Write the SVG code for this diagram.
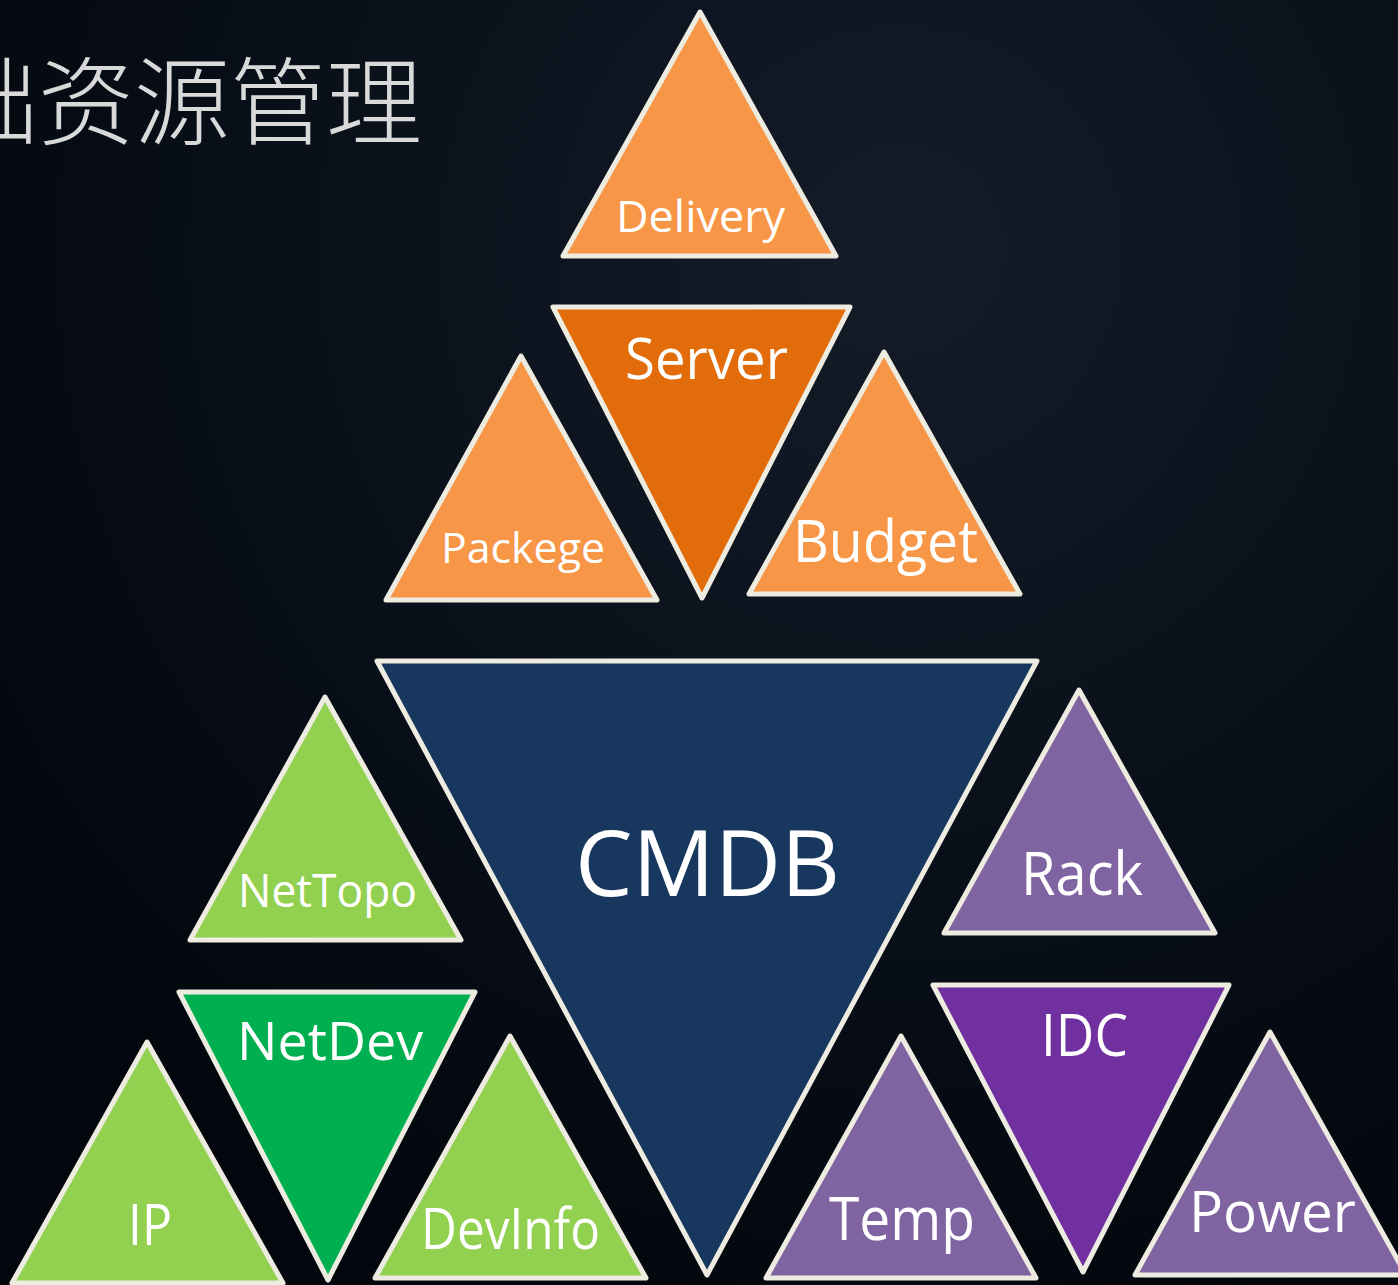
<svg xmlns="http://www.w3.org/2000/svg" width="1398" height="1285" viewBox="0 0 1398 1285">
  <defs>
    <radialGradient id="bg" cx="900" cy="250" r="1100" gradientUnits="userSpaceOnUse">
      <stop offset="0" stop-color="#141c28"/>
      <stop offset="0.5" stop-color="#0a111b"/>
      <stop offset="1" stop-color="#03070d"/>
    </radialGradient>
  </defs>
  <style>
    .tri { stroke: #eeece1; stroke-width: 5; stroke-linejoin: round; }
    .lbl { font-family: "Open Sans", "Noto Sans", "DejaVu Sans", sans-serif; fill: #ffffff; }
    .o1 { fill: #f79646; }
    .o2 { fill: #e36c0a; }
    .nv { fill: #17375e; }
    .g1 { fill: #92d050; }
    .g2 { fill: #00b050; }
    .p1 { fill: #8064a2; }
    .p2 { fill: #7030a0; }
    .title { font-family: "Noto Sans CJK SC", "Noto Sans CJK JP", sans-serif; font-size: 96px; font-weight: 300; fill: #d9d9d9; }
  </style>
  <rect width="1398" height="1285" fill="url(#bg)"/>

  <text class="title" x="-58" y="137">础资源管理</text>

  <g id="delivery">
    <polygon class="tri o1" points="700,12 836,256 563,256"/>
    <text class="lbl" x="616" y="232" font-size="43" textLength="169" lengthAdjust="spacingAndGlyphs">Delivery</text>
  </g>
  <g id="server">
    <polygon class="tri o2" points="553,307 850,307 702,598"/>
    <text class="lbl" x="625" y="379" font-size="57" textLength="163" lengthAdjust="spacingAndGlyphs">Server</text>
  </g>
  <g id="packege">
    <polygon class="tri o1" points="521,356 657,600 386,600"/>
    <text class="lbl" x="441" y="563" font-size="42" textLength="164" lengthAdjust="spacingAndGlyphs">Packege</text>
  </g>
  <g id="budget">
    <polygon class="tri o1" points="884,352 1020,594 749,594"/>
    <text class="lbl" x="793" y="562" font-size="59" textLength="185" lengthAdjust="spacingAndGlyphs">Budget</text>
  </g>
  <g id="cmdb">
    <polygon class="tri nv" points="377,661 1037,661 707,1275"/>
    <text class="lbl" x="575" y="896" font-size="92" textLength="265" lengthAdjust="spacingAndGlyphs">CMDB</text>
  </g>
  <g id="nettopo">
    <polygon class="tri g1" points="325,697 461,940 190,940"/>
    <text class="lbl" x="238" y="907" font-size="45" textLength="179" lengthAdjust="spacingAndGlyphs">NetTopo</text>
  </g>
  <g id="netdev">
    <polygon class="tri g2" points="179,992 475,992 328,1280"/>
    <text class="lbl" x="237" y="1060" font-size="53" textLength="186" lengthAdjust="spacingAndGlyphs">NetDev</text>
  </g>
  <g id="ip">
    <polygon class="tri g1" points="147,1042 283,1283 12,1283"/>
    <text class="lbl" x="128" y="1245" font-size="57" textLength="44" lengthAdjust="spacingAndGlyphs">IP</text>
  </g>
  <g id="devinfo">
    <polygon class="tri g1" points="510,1036 646,1278 375,1278"/>
    <text class="lbl" x="421" y="1249" font-size="57" textLength="179" lengthAdjust="spacingAndGlyphs">DevInfo</text>
  </g>
  <g id="rack">
    <polygon class="tri p1" points="1079,690 1215,933 944,933"/>
    <text class="lbl" x="1021" y="895" font-size="60" textLength="122" lengthAdjust="spacingAndGlyphs">Rack</text>
  </g>
  <g id="idc">
    <polygon class="tri p2" points="933,985 1229,985 1083,1272"/>
    <text class="lbl" x="1041" y="1056" font-size="58" textLength="87" lengthAdjust="spacingAndGlyphs">IDC</text>
  </g>
  <g id="temp">
    <polygon class="tri p1" points="901,1036 1036,1278 766,1278"/>
    <text class="lbl" x="829" y="1240" font-size="60" textLength="146" lengthAdjust="spacingAndGlyphs">Temp</text>
  </g>
  <g id="power">
    <polygon class="tri p1" points="1270,1032 1406,1275 1135,1275"/>
    <text class="lbl" x="1189" y="1232" font-size="56" textLength="167" lengthAdjust="spacingAndGlyphs">Power</text>
  </g>
</svg>
